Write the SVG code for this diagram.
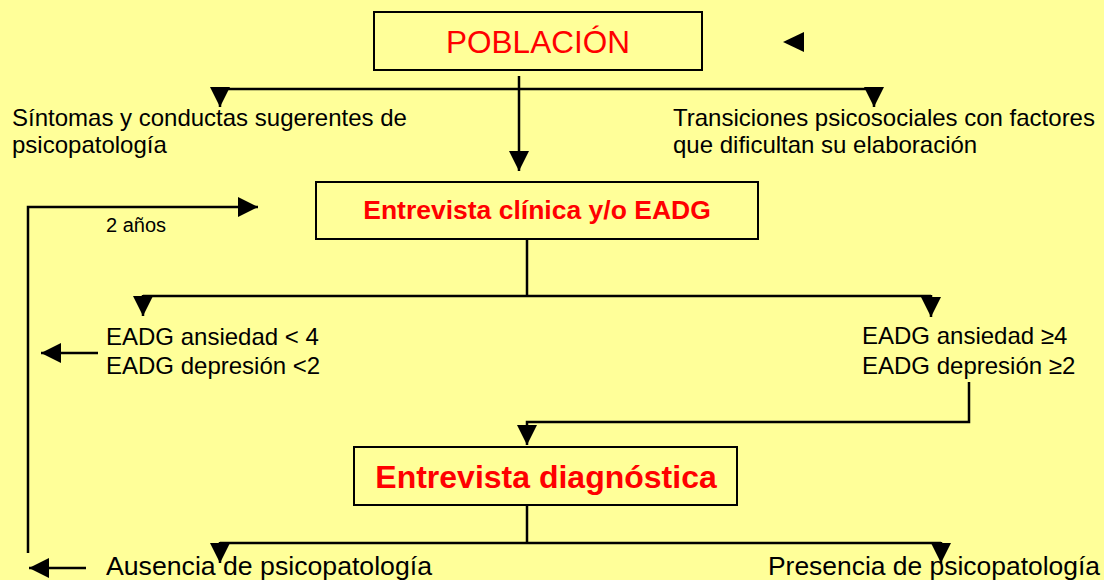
<svg xmlns="http://www.w3.org/2000/svg" width="1104" height="580" viewBox="0 0 1104 580">
<defs>
<style>
.box{fill:#FFFF99;stroke:#000;stroke-width:2}
.ln{fill:none;stroke:#000;stroke-width:2.5}
.ar{fill:none;stroke:#000;stroke-width:2.5;marker-end:url(#ah)}
.t{font-family:"Liberation Sans",Arial,sans-serif;font-size:24px;fill:#000}
.b{font-family:"Liberation Sans",Arial,sans-serif;font-size:25px;fill:#000}
.s{font-family:"Liberation Sans",Arial,sans-serif;font-size:20px;fill:#000}
.r{font-family:"Liberation Sans",Arial,sans-serif;fill:#FF0000;text-anchor:middle}
</style>
<marker id="ah" viewBox="0 0 20 20" refX="20" refY="10" markerWidth="20" markerHeight="20" markerUnits="userSpaceOnUse" orient="auto">
<path d="M0,0 L20,10 L0,20 z" fill="#000"/>
</marker>
</defs>
<rect width="1104" height="580" fill="#FFFF99"/>
<g id="connectors">
<path class="ar" d="M519,76 V171"/>
<path class="ln" d="M220,89 H874"/>
<path class="ar" d="M220,88 V107"/>
<path class="ar" d="M874,88 V107"/>
<path class="ar" d="M28,553 V207 H258"/>
<path class="ln" d="M527,239 V296"/>
<path class="ln" d="M143,296 H931"/>
<path class="ar" d="M143,295 V316"/>
<path class="ar" d="M931,295 V317"/>
<path class="ar" d="M98,353 H41"/>
<path class="ar" d="M969,382 V422 H527 V445"/>
<path class="ln" d="M527,505 V543"/>
<path class="ln" d="M220,543 H941"/>
<path class="ar" d="M220,542 V563"/>
<path class="ar" d="M941,542 V563"/>
<path class="ar" d="M86,568 H29"/>
<polygon points="783,42 804,32 804,52" fill="#000"/>
</g>
<g id="poblacion">
<rect class="box" x="374" y="12" width="328" height="58"/>
<text class="r" x="538" y="53" font-size="31.5">POBLACIÓN</text>
</g>
<g id="sintomas">
<text class="t" x="12" y="126">Síntomas y conductas sugerentes de</text>
<text class="t" x="12" y="153">psicopatología</text>
</g>
<g id="transiciones">
<text class="t" x="673" y="126">Transiciones psicosociales con factores</text>
<text class="t" x="673" y="153">que dificultan su elaboración</text>
</g>
<g id="entrevista-clinica">
<rect class="box" x="316" y="182" width="442" height="57"/>
<text class="r" x="537" y="219" font-size="26.5" font-weight="bold">Entrevista clínica y/o EADG</text>
</g>
<g id="dos-anos">
<text class="s" x="106" y="232">2 años</text>
</g>
<g id="eadg-bajo">
<text class="t" x="106" y="345">EADG ansiedad &lt; 4</text>
<text class="t" x="106" y="374">EADG depresión &lt;2</text>
</g>
<g id="eadg-alto">
<text class="t" x="862" y="344">EADG ansiedad ≥4</text>
<text class="t" x="862" y="374">EADG depresión ≥2</text>
</g>
<g id="entrevista-diagnostica">
<rect class="box" x="354" y="447" width="383" height="58"/>
<text class="r" x="546" y="488" font-size="32" font-weight="bold">Entrevista diagnóstica</text>
</g>
<g id="ausencia">
<text class="b" x="106" y="575" textLength="326" lengthAdjust="spacingAndGlyphs">Ausencia de psicopatología</text>
</g>
<g id="presencia">
<text class="b" x="768" y="575" textLength="332" lengthAdjust="spacingAndGlyphs">Presencia de psicopatología</text>
</g>
</svg>
